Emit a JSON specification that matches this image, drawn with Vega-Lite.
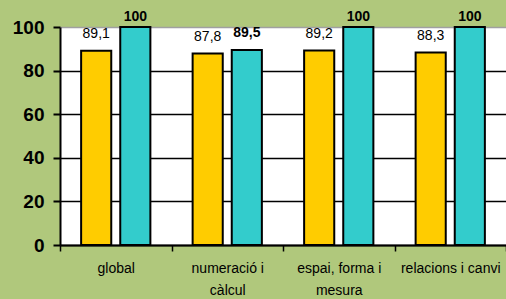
{
  "$schema": "https://vega.github.io/schema/vega-lite/v6.json",
  "width": 446,
  "height": 218,
  "autosize": "none",
  "padding": {"left": 60, "top": 27, "right": 0, "bottom": 54},
  "background": "#b0c87c",
  "config": {
    "font": "Liberation Sans",
    "locale": {"number": {"decimal": ",", "thousands": ".", "grouping": [3], "currency": ["", " €"]}},
    "view": {"fill": "white", "stroke": null}
  },
  "data": {
    "values": [
      {"categoria": "global", "serie": "A", "valor": 89.1},
      {"categoria": "global", "serie": "B", "valor": 100},
      {"categoria": "numeració i càlcul", "serie": "A", "valor": 87.8},
      {"categoria": "numeració i càlcul", "serie": "B", "valor": 89.5},
      {"categoria": "espai, forma i mesura", "serie": "A", "valor": 89.2},
      {"categoria": "espai, forma i mesura", "serie": "B", "valor": 100},
      {"categoria": "relacions i canvi", "serie": "A", "valor": 88.3},
      {"categoria": "relacions i canvi", "serie": "B", "valor": 100}
    ]
  },
  "encoding": {
    "x": {
      "field": "categoria", "type": "nominal", "sort": null, "title": null,
      "scale": {"paddingInner": 0, "paddingOuter": 0},
      "axis": {
        "labelAngle": 0, "tickBand": "extent", "domainColor": "black", "domainWidth": 2,
        "tickColor": "black", "tickWidth": 1.5, "tickSize": 6, "labelFontSize": 14,
        "labelColor": "black", "labelPadding": 10, "labelLineHeight": 22, "labelBaseline": "top",
        "labelExpr": "datum.value == 'numeració i càlcul' ? ['numeració i', 'càlcul'] : datum.value == 'espai, forma i mesura' ? ['espai, forma i', 'mesura'] : datum.value"
      }
    },
    "xOffset": {"field": "serie", "type": "nominal", "scale": {"paddingInner": 0.23, "paddingOuter": 0.54}},
    "y": {
      "field": "valor", "type": "quantitative", "title": null,
      "scale": {"domain": [0, 100], "nice": false},
      "axis": {
        "values": [0, 20, 40, 60, 80, 100], "domainColor": "black", "domainWidth": 2,
        "tickColor": "black", "tickWidth": 2, "tickSize": 7, "labelFontSize": 19, "labelFontWeight": "bold",
        "labelColor": "black", "labelPadding": 9,
        "gridColor": {"condition": {"test": "datum.value == 100", "value": "#a0a0a0"}, "value": "black"},
        "gridWidth": 1.3
      }
    }
  },
  "layer": [
    {
      "mark": {"type": "bar", "stroke": "black", "strokeWidth": 2},
      "encoding": {
        "color": {"field": "serie", "type": "nominal", "legend": null,
          "scale": {"domain": ["A", "B"], "range": ["#ffcc00", "#33cccc"]}}
      }
    },
    {
      "transform": [{"filter": "datum.serie == 'A'"}],
      "mark": {"type": "text", "baseline": "middle", "dy": -17, "fontSize": 14, "color": "black"},
      "encoding": {"text": {"field": "valor", "type": "quantitative", "format": ".1~f"}}
    },
    {
      "transform": [{"filter": "datum.serie == 'B' && datum.valor < 100"}],
      "mark": {"type": "text", "baseline": "middle", "dy": -17, "fontSize": 14, "fontWeight": "bold", "color": "black"},
      "encoding": {"text": {"field": "valor", "type": "quantitative", "format": ".1~f"}}
    },
    {
      "transform": [{"filter": "datum.serie == 'B' && datum.valor >= 100"}],
      "mark": {"type": "text", "baseline": "middle", "dy": -10, "fontSize": 14, "fontWeight": "bold", "color": "black"},
      "encoding": {"text": {"field": "valor", "type": "quantitative", "format": ".1~f"}}
    }
  ]
}
